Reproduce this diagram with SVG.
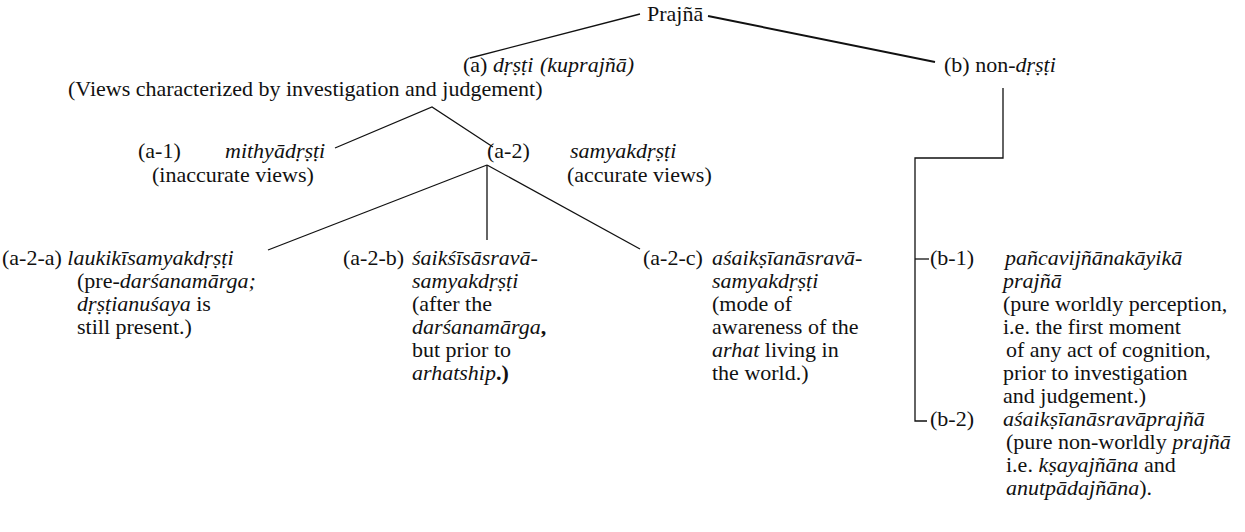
<svg xmlns="http://www.w3.org/2000/svg" width="1245" height="532" viewBox="0 0 1245 532">
<style>
text{font-family:"Liberation Serif","DejaVu Serif",serif;font-size:22px;fill:#111}
.i{font-style:italic}
.b{font-weight:bold}
.c{fill:none;stroke:#111;stroke-width:1.3}
.c2{fill:none;stroke:#111;stroke-width:2}
</style>
<rect width="1245" height="532" fill="#fff"/>
<g id="connectors">
<line class="c" x1="640" y1="14" x2="470" y2="58"/>
<line class="c2" x1="708" y1="16" x2="935" y2="62"/>
<polyline class="c" points="335,148 432,107 493,147"/>
<line class="c" x1="487" y1="165" x2="268" y2="250"/>
<line class="c" x1="487" y1="165" x2="487" y2="240"/>
<line class="c" x1="487" y1="165" x2="640" y2="249"/>
<polyline class="c" points="1003,88 1003,158 915,158 915,421 927,421"/>
<line class="c" x1="915" y1="259" x2="929" y2="259"/>
</g>
<g id="prajna"><text x="647" y="21">Prajñā</text></g>
<g id="a">
<text x="463" y="72">(a) <tspan class="i">dṛṣṭi</tspan><tspan class="i" x="540">(kuprajñā)</tspan></text>
<text x="68" y="96">(Views characterized by investigation and judgement)</text>
</g>
<g id="b"><text x="944" y="72">(b) non-<tspan class="i">dṛṣṭi</tspan></text></g>
<g id="a-1">
<text x="138" y="158">(a-1)<tspan class="i" x="225">mithyādṛṣṭi</tspan></text>
<text x="152" y="182">(inaccurate views)</text>
</g>
<g id="a-2">
<text x="487" y="158">(a-2)<tspan class="i" x="570">samyakdṛṣṭi</tspan></text>
<text x="567" y="182">(accurate views)</text>
</g>
<g id="a-2-a">
<text x="2" y="265">(a-2-a) <tspan class="i">laukikīsamyakdṛṣṭi</tspan></text>
<text x="77" y="288">(pre-<tspan class="i">darśanamārga;</tspan></text>
<text x="77" y="311"><tspan class="i">dṛṣṭianuśaya</tspan> is</text>
<text x="77" y="334">still present.)</text>
</g>
<g id="a-2-b">
<text x="343" y="265">(a-2-b)<tspan class="i" x="412">śaikśīsāsravā-</tspan></text>
<text class="i" x="412" y="288">samyakdṛṣṭi</text>
<text x="412" y="311">(after the</text>
<text x="412" y="334"><tspan class="i">darśanamārga</tspan><tspan class="b">,</tspan></text>
<text x="412" y="357">but prior to</text>
<text x="412" y="380"><tspan class="i">arhatship</tspan><tspan class="b">.)</tspan></text>
</g>
<g id="a-2-c">
<text x="643" y="265">(a-2-c)<tspan class="i" x="712">aśaikṣīanāsravā-</tspan></text>
<text class="i" x="712" y="288">samyakdṛṣṭi</text>
<text x="712" y="311">(mode of</text>
<text x="712" y="334">awareness of the</text>
<text x="712" y="357"><tspan class="i">arhat</tspan> living in</text>
<text x="712" y="380">the world.)</text>
</g>
<g id="b-1">
<text x="930" y="265">(b-1)<tspan class="i" x="1005">pañcavijñānakāyikā</tspan></text>
<text class="i" x="1003" y="288">prajñā</text>
<text x="1003" y="311">(pure worldly perception,</text>
<text x="1003" y="334">i.e. the first moment</text>
<text x="1006" y="357">of any act of cognition,</text>
<text x="1003" y="380">prior to investigation</text>
<text x="1003" y="403">and judgement.)</text>
</g>
<g id="b-2">
<text x="930" y="426">(b-2)<tspan class="i" x="1003">aśaikṣīanāsravāprajñā</tspan></text>
<text x="1006" y="449">(pure non-worldly <tspan class="i">prajñā</tspan></text>
<text x="1006" y="472">i.e. <tspan class="i">kṣayajñāna</tspan> and</text>
<text x="1006" y="495"><tspan class="i">anutpādajñāna</tspan>).</text>
</g>
</svg>
